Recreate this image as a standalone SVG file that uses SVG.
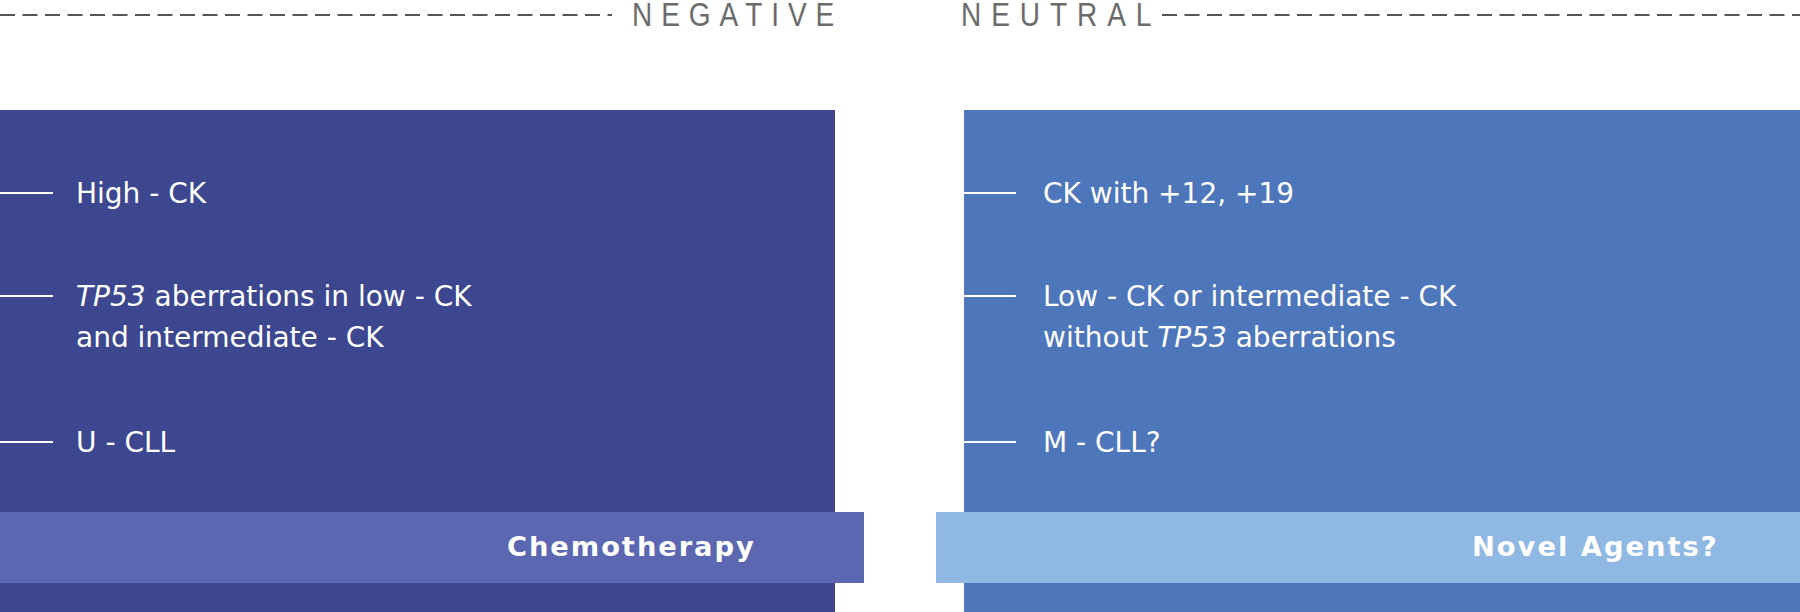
<svg xmlns="http://www.w3.org/2000/svg" width="1800" height="612" viewBox="0 0 1800 612">
<style>
.hdr{font-family:"Liberation Sans",Arial,sans-serif;font-size:33px;fill:#6b6b6b}
.dash{stroke:#555;stroke-width:2;stroke-dasharray:15 7.5;fill:none}
.item{font-family:"DejaVu Sans",Verdana,sans-serif;font-size:28px;fill:#fff}
.tick{stroke:#fff;stroke-width:2}
.band{font-family:"DejaVu Sans",Verdana,sans-serif;font-size:26px;font-weight:bold;fill:#fff}
</style>
<rect width="1800" height="612" fill="#fff"/>
<g id="connectors">
  <line class="dash" x1="0" y1="15" x2="612" y2="15"/>
  <line class="dash" x1="1162" y1="15" x2="1800" y2="15"/>
</g>
<g id="header-negative">
  <text class="hdr" transform="translate(632,25.5) scale(0.85,1)" textLength="238" lengthAdjust="spacing">NEGATIVE</text>
</g>
<g id="header-neutral">
  <text class="hdr" transform="translate(961,25.5) scale(0.85,1)" textLength="224" lengthAdjust="spacing">NEUTRAL</text>
</g>
<g id="box-negative">
  <rect x="0" y="110" width="835" height="502" fill="#3c4790"/>
  <line class="tick" x1="0" y1="193" x2="53" y2="193"/>
  <text class="item" x="76" y="203">High - CK</text>
  <line class="tick" x1="0" y1="296" x2="53" y2="296"/>
  <text class="item" x="76" y="306"><tspan font-style="italic">TP53</tspan> aberrations in low - CK</text>
  <text class="item" x="76" y="347">and intermediate - CK</text>
  <line class="tick" x1="0" y1="442" x2="53" y2="442"/>
  <text class="item" x="76" y="452">U - CLL</text>
</g>
<g id="box-neutral">
  <rect x="964" y="110" width="836" height="502" fill="#4e76bb"/>
  <line class="tick" x1="964" y1="193" x2="1016" y2="193"/>
  <text class="item" x="1043" y="203">CK with +12, +19</text>
  <line class="tick" x1="964" y1="296" x2="1016" y2="296"/>
  <text class="item" x="1043" y="306">Low - CK or intermediate - CK</text>
  <text class="item" x="1043" y="347">without <tspan font-style="italic">TP53</tspan> aberrations</text>
  <line class="tick" x1="964" y1="442" x2="1016" y2="442"/>
  <text class="item" x="1043" y="452">M - CLL?</text>
</g>
<g id="band-chemotherapy">
  <rect x="0" y="512" width="864" height="71" fill="#5b67b0"/>
  <text class="band" transform="translate(507,556) scale(1.05,1)" textLength="235" lengthAdjust="spacing">Chemotherapy</text>
</g>
<g id="band-novel-agents">
  <rect x="936" y="512" width="864" height="71" fill="#8fb8e3"/>
  <text class="band" transform="translate(1472,556) scale(1.05,1)" textLength="233" lengthAdjust="spacing">Novel Agents?</text>
</g>
</svg>
